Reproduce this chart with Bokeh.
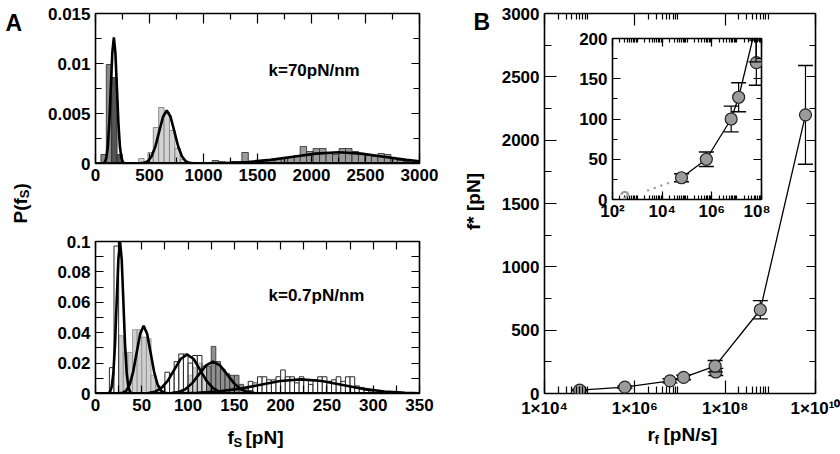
from math import pi
from bokeh.plotting import figure
from bokeh.models import Label, FixedTicker, LinearAxis, LogAxis, NumeralTickFormatter, Range1d
from bokeh.layouts import row, column
from bokeh.embed import file_html
from bokeh.resources import INLINE

FONT = "Liberation Sans"

# ---------------- Panel A, top: k = 70 pN/nm ----------------
a1_grey_x = [75, 125]
a1_grey_h = [0.0009, 0.0099]
a1_dark_x = [175, 225]
a1_dark_h = [0.0086, 0.0009]
a1_light_x = [425, 510, 560, 610, 660, 710, 760, 810]
a1_light_h = [0.0005, 0.0011, 0.0036, 0.0056, 0.0051, 0.0033, 0.0015, 0.0004]
a1_mid_x = [1110, 1170, 1290, 1385, 1450, 1570, 1630, 1690, 1750, 1810, 1870, 1925,
            1985, 2045, 2105, 2165, 2225, 2285, 2345, 2405, 2465, 2525, 2585, 2645,
            2705, 2765, 2825, 2885, 2945]
a1_mid_h = [0.0003, 0.0002, 0.0002, 0.0011, 0.0002, 0.0003, 0.0004, 0.0004, 0.0005,
            0.0006, 0.0008, 0.0017, 0.0012, 0.0015, 0.0015, 0.0011, 0.0009, 0.0015,
            0.0015, 0.0012, 0.0009, 0.0008, 0.0007, 0.0010, 0.0009, 0.0005, 0.0003,
            0.0002, 0.0001]
a1_fit1_x = [0, 72, 86, 100, 114, 128, 142, 156, 170, 184, 198, 212, 226, 240, 254, 268, 3000]
a1_fit1_y = [0, 0.00003, 0.00014, 0.00055, 0.0017, 0.0041, 0.00764, 0.01112, 0.0126,
             0.01112, 0.00764, 0.0041, 0.0017, 0.00055, 0.00014, 0.00003, 0]
a1_fit2_x = [0, 415, 450, 485, 520, 555, 590, 625, 660, 695, 730, 765, 800, 835, 870, 905, 3000]
a1_fit2_y = [0, 0.00001, 0.00006, 0.00023, 0.00072, 0.00172, 0.00321, 0.00468, 0.0053,
             0.00468, 0.00321, 0.00172, 0.00072, 0.00023, 0.00006, 0.00001, 0]
a1_fit3_x = [0, 990, 1200, 1410, 1620, 1830, 2040, 2250, 2460, 2670, 2880, 3000]
a1_fit3_y = [0, 0.00001, 0.00005, 0.00015, 0.00036, 0.00068, 0.00099, 0.00112, 0.00099,
             0.00068, 0.00036, 0.00022]
a1_xticks = [0, 500, 1000, 1500, 2000, 2500, 3000]
a1_xminor = [250, 750, 1250, 1750, 2250, 2750]
a1_yticks = [0, 0.005, 0.01, 0.015]
a1_yminor = [0.0025, 0.0075, 0.0125]

# ---------------- Panel A, bottom: k = 0.7 pN/nm ----------------
a2_w1_x = [17.5, 22.5]
a2_w1_h = [0.017, 0.097]
a2_l2_x = [27.5, 32.5, 37.5, 42.5, 47.5, 52.5, 57.5, 62.5, 67.5]
a2_l2_h = [0.038, 0.027, 0.027, 0.042, 0.042, 0.037, 0.036, 0.012, 0.005]
a2_w3_x = [72.5, 77.5, 82.5, 87.5, 92.5, 97.5, 102.5, 107.5, 112.5, 117.5]
a2_w3_h = [0.004, 0.014, 0.013, 0.021, 0.026, 0.026, 0.020, 0.025, 0.025, 0.018]
a2_d4_x = [102.5, 107.5, 112.5, 117.5, 122.5, 127.5, 132.5, 137.5, 142.5, 147.5,
           152.5, 157.5, 162.5, 167.5]
a2_d4_h = [0.012, 0.017, 0.020, 0.015, 0.018, 0.031, 0.021, 0.016, 0.013, 0.012,
           0.012, 0.006, 0.004, 0.002]
a2_w5_x = [167.5, 172.5, 177.5, 182.5, 187.5, 192.5, 197.5, 202.5, 207.5, 212.5, 217.5,
           222.5, 227.5, 232.5, 237.5, 242.5, 247.5, 252.5, 257.5, 262.5, 267.5, 272.5,
           277.5, 282.5, 287.5, 292.5, 297.5, 327.5]
a2_w5_h = [0.008, 0.007, 0.011, 0.011, 0.009, 0.009, 0.011, 0.0155, 0.011, 0.011, 0.007,
           0.011, 0.009, 0.006, 0.009, 0.011, 0.011, 0.008, 0.009, 0.011, 0.008, 0.011,
           0.011, 0.005, 0.004, 0.002, 0.001, 0.001]
a2_fit1_x = [0, 13.9, 15.7, 17.5, 19.3, 21.1, 22.9, 24.7, 26.5, 28.3, 30.1, 31.9, 33.7,
             35.5, 37.3, 39.1, 350]
a2_fit1_y = [0, 0.0002, 0.0011, 0.0044, 0.0135, 0.0325, 0.0607, 0.0883, 0.1, 0.0883,
             0.0607, 0.0325, 0.0135, 0.0044, 0.0011, 0.0002, 0]
a2_fit2_x = [0, 25.75, 29.5, 33.25, 37, 40.75, 44.5, 48.25, 52, 55.75, 59.5, 63.25, 67,
             70.75, 74.5, 78.25, 350]
a2_fit2_y = [0, 0.0001, 0.0005, 0.00195, 0.006, 0.01445, 0.027, 0.0393, 0.0445, 0.0393,
             0.027, 0.01445, 0.006, 0.00195, 0.0005, 0.0001, 0]
a2_fit3_x = [0, 50, 57, 64, 71, 78, 85, 92, 99, 106, 113, 120, 127, 134, 141, 148, 350]
a2_fit3_y = [0, 0.00006, 0.00029, 0.00113, 0.00348, 0.00834, 0.01559, 0.02268, 0.0257,
             0.02268, 0.01559, 0.00834, 0.00348, 0.00113, 0.00029, 0.00006, 0]
a2_fit4_x = [0, 74.5, 82, 89.5, 97, 104.5, 112, 119.5, 127, 134.5, 142, 149.5, 157,
             164.5, 172, 179.5, 350]
a2_fit4_y = [0, 0.00005, 0.00023, 0.00092, 0.00284, 0.00682, 0.01274, 0.01853, 0.021,
             0.01853, 0.01274, 0.00682, 0.00284, 0.00092, 0.00023, 0.00005, 0]
a2_fit5_x = [0, 87, 109.5, 132, 154.5, 177, 199.5, 222, 244.5, 267, 289.5, 312, 334.5, 350]
a2_fit5_y = [0, 0.0001, 0.0004, 0.00126, 0.00302, 0.00564, 0.00821, 0.0093, 0.00821,
             0.00564, 0.00302, 0.00126, 0.0004, 0.00015]
a2_xticks = [0, 50, 100, 150, 200, 250, 300, 350]
a2_xminor = [25, 75, 125, 175, 225, 275, 325]
a2_yticks = [0, 0.02, 0.04, 0.06, 0.08, 0.1]
a2_yminor = [0.01, 0.03, 0.05, 0.07, 0.09]

# ---------------- Panel B: f* vs loading rate ----------------
rf = [6e4, 6e5, 6e6, 1.2e7, 6e7, 6e8, 6e9]
fstar = [27, 50, 100, 127, 216, 661, 2200]
ferr = [5, 9, 16, 18, 45, 72, 390]
rf_extra = [6.2e7]
fstar_extra = [170]
ferr_extra = [28]
guess_x = [2.5e3, 2.2e4]
guess_y = [11, 21.5]
b_xticks = [1e4, 1e6, 1e8, 1e10]
b_xlabels = ["1×10⁴", "1×10⁶", "1×10⁸", "1×10¹⁰"]
b_xminor = [2e4, 3e4, 4e4, 5e4, 6e4, 7e4, 8e4, 9e4,
            2e6, 3e6, 4e6, 5e6, 6e6, 7e6, 8e6, 9e6,
            2e8, 3e8, 4e8, 5e8, 6e8, 7e8, 8e8, 9e8]
b_yticks = [0, 500, 1000, 1500, 2000, 2500, 3000]
b_yminor = [250, 750, 1250, 1750, 2250, 2750]
i_xticks = [1e2, 1e4, 1e6, 1e8]
i_xlabels = ["10²", "10⁴", "10⁶", "10⁸"]
i_xminor = [m * 10 ** e for e in range(2, 8) for m in range(2, 11)]
i_yticks = [0, 50, 100, 150, 200]
i_yminor = [25, 75, 125, 175]

TICK_PX = "17px"


def style_axis(ax, major_in, minor_in, labels=True):
    ax.axis_line_color = None
    ax.major_tick_in = major_in
    ax.major_tick_out = 0
    ax.minor_tick_in = minor_in
    ax.minor_tick_out = 0
    ax.major_tick_line_color = "black"
    ax.minor_tick_line_color = "black"
    ax.major_tick_line_width = 1.2
    ax.minor_tick_line_width = 1.2
    ax.major_label_text_font = FONT
    ax.major_label_text_font_style = "bold"
    ax.major_label_text_font_size = TICK_PX
    ax.major_label_text_color = "black"
    ax.major_label_standoff = 5
    if not labels:
        ax.major_label_text_color = None
        ax.major_label_standoff = 0


def base_fig(**kw):
    p = figure(output_backend="svg", toolbar_location=None, **kw)
    p.grid.visible = False
    p.outline_line_color = "black"
    p.outline_line_width = 1.6
    p.background_fill_color = None
    p.border_fill_color = None
    return p


def add_label(p, x, y, text, size, angle=0, color="black", align="left",
              baseline="alphabetic", units="screen"):
    p.add_layout(Label(x=x, y=y, x_units=units, y_units=units, text=text,
                       text_font=FONT, text_font_style="bold", text_font_size=f"{size}px",
                       text_color=color, angle=angle, text_align=align,
                       text_baseline=baseline))


def setup_linear(p, xt, xm, yt, ym, xin=(8, 5), yin=(8, 5)):
    p.xaxis.ticker = FixedTicker(ticks=xt, minor_ticks=xm)
    p.yaxis.ticker = FixedTicker(ticks=yt, minor_ticks=ym)
    style_axis(p.xaxis[0], *xin)
    style_axis(p.yaxis[0], *yin)
    top = LinearAxis(ticker=FixedTicker(ticks=xt, minor_ticks=xm))
    style_axis(top, *xin, labels=False)
    p.add_layout(top, "above")
    right = LinearAxis(ticker=FixedTicker(ticks=yt, minor_ticks=ym))
    style_axis(right, *yin, labels=False)
    p.add_layout(right, "right")


EDGE = "#2a2a2a"

# ---- A top ----
pa = base_fig(width=438, height=227, x_range=(0, 3000), y_range=(0, 0.015),
              min_border_left=95, min_border_right=19, min_border_top=13, min_border_bottom=64)
setup_linear(pa, a1_xticks, a1_xminor, a1_yticks, a1_yminor, xin=(10, 6), yin=(8, 6))
pa.yaxis[0].formatter = NumeralTickFormatter(format="0.[000]")
pa.vbar(x=a1_mid_x, width=60, top=a1_mid_h, fill_color="#9c9c9c", line_color=EDGE, line_width=0.8)
pa.vbar(x=a1_light_x, width=50, top=a1_light_h, fill_color="#d2d2d2", line_color="#777777", line_width=0.8)
pa.vbar(x=a1_grey_x, width=50, top=a1_grey_h, fill_color="#8a8a8a", line_color=EDGE, line_width=0.8)
pa.vbar(x=a1_dark_x, width=50, top=a1_dark_h, fill_color="#555555", line_color=EDGE, line_width=0.8)
for fx, fy in [(a1_fit1_x, a1_fit1_y), (a1_fit2_x, a1_fit2_y), (a1_fit3_x, a1_fit3_y)]:
    pa.line(fx, fy, line_color="black", line_width=2.6)
add_label(pa, 173, 93, "k=70pN/nm", 17)

# ---- A bottom ----
pb = base_fig(width=438, height=227, x_range=(0, 350), y_range=(0, 0.1),
              min_border_left=95, min_border_right=19, min_border_top=14, min_border_bottom=61)
setup_linear(pb, a2_xticks, a2_xminor, a2_yticks, a2_yminor, xin=(8, 8), yin=(8, 8))
pb.yaxis[0].formatter = NumeralTickFormatter(format="0.[00]")
pb.vbar(x=a2_w5_x, width=5, top=a2_w5_h, fill_color="white", line_color=EDGE, line_width=1)
pb.vbar(x=a2_d4_x, width=5, top=a2_d4_h, fill_color="#8f8f8f", line_color=EDGE, line_width=0.8)
pb.vbar(x=a2_w3_x, width=5, top=a2_w3_h, fill_color="white", fill_alpha=0.6, line_color=EDGE, line_width=1)
pb.vbar(x=a2_l2_x, width=5, top=a2_l2_h, fill_color="#cfcfcf", line_color="#8a8a8a", line_width=0.8)
pb.vbar(x=a2_w1_x, width=5, top=a2_w1_h, fill_color="white", line_color=EDGE, line_width=1)
for fx, fy in [(a2_fit1_x, a2_fit1_y), (a2_fit2_x, a2_fit2_y), (a2_fit3_x, a2_fit3_y),
               (a2_fit4_x, a2_fit4_y), (a2_fit5_x, a2_fit5_y)]:
    pb.line(fx, fy, line_color="black", line_width=2.6)
add_label(pb, 173, 98, "k=0.7pN/nm", 17)

# ---- B main ----
pB = base_fig(width=402, height=454, x_axis_type="log", x_range=(1e4, 1e10), y_range=(0, 3000),
              min_border_left=106, min_border_right=25, min_border_top=13, min_border_bottom=61)
pB.xaxis.ticker = FixedTicker(ticks=b_xticks, minor_ticks=b_xminor)
pB.yaxis.ticker = FixedTicker(ticks=b_yticks, minor_ticks=b_yminor)
style_axis(pB.xaxis[0], 13, 7)
style_axis(pB.yaxis[0], 12, 7)
pB.xaxis[0].major_label_overrides = dict(zip(b_xticks, b_xlabels))
topB = LogAxis(ticker=FixedTicker(ticks=b_xticks, minor_ticks=b_xminor))
style_axis(topB, 12, 6, labels=False)
pB.add_layout(topB, "above")
rightB = LinearAxis(ticker=FixedTicker(ticks=b_yticks, minor_ticks=b_yminor))
style_axis(rightB, 9, 6, labels=False)
pB.add_layout(rightB, "right")


def draw_points(p, xs, ys, es, line=True, size=12, cap=15):
    lo = [y - e for y, e in zip(ys, es)]
    hi = [y + e for y, e in zip(ys, es)]
    if line:
        p.line(xs, ys, line_color="black", line_width=1.3)
    p.segment(x0=xs, y0=lo, x1=xs, y1=hi, line_color="black", line_width=1.2)
    p.scatter(xs, lo, marker="dash", size=cap, line_color="black", line_width=1.4)
    p.scatter(xs, hi, marker="dash", size=cap, line_color="black", line_width=1.4)
    p.scatter(xs, ys, marker="circle", size=size, fill_color="#9b9b9b",
              line_color="#222222", line_width=1.2)


draw_points(pB, rf_extra, fstar_extra, ferr_extra, line=False)
draw_points(pB, rf, fstar, ferr)

# ---- B inset ----
pI = base_fig(width=210, height=235, x_axis_type="log", x_range=(1e2, 1e8), y_range=(0, 200),
              min_border_left=52, min_border_right=9, min_border_top=8, min_border_bottom=66)
pI.xaxis.ticker = FixedTicker(ticks=i_xticks, minor_ticks=i_xminor)
pI.yaxis.ticker = FixedTicker(ticks=i_yticks, minor_ticks=i_yminor)
style_axis(pI.xaxis[0], 8, 4)
style_axis(pI.yaxis[0], 8, 5)
pI.xaxis[0].major_label_overrides = dict(zip(i_xticks, i_xlabels))
pI.xaxis[0].major_label_standoff = 2
topI = LogAxis(ticker=FixedTicker(ticks=i_xticks, minor_ticks=i_xminor))
style_axis(topI, 8, 4, labels=False)
pI.add_layout(topI, "above")
rightI = LinearAxis(ticker=FixedTicker(ticks=i_yticks, minor_ticks=i_yminor))
style_axis(rightI, 8, 5, labels=False)
pI.add_layout(rightI, "right")
pI.line(guess_x, guess_y, line_color="#9a9a9a", line_width=2.2, line_dash="2 5")
draw_points(pI, rf_extra, fstar_extra, ferr_extra, line=False, size=12, cap=15)
draw_points(pI, rf, fstar, ferr, size=12, cap=15)
add_label(pI, 7, 2, "?", 17, color="#9a9a9a")
inset_box = column(pI)
inset_box.margin = (30, 0, 0, -280)

# ---- text overlay (panel letters and axis titles), page-pixel coordinates ----
pT = figure(width=840, height=454, x_range=Range1d(0, 840), y_range=Range1d(454, 0),
            output_backend="svg", toolbar_location=None, min_border=0, title=None,
            x_axis_location=None, y_axis_location=None)
pT.grid.visible = False
pT.outline_line_color = None
pT.background_fill_color = None
pT.border_fill_color = None
add_label(pT, 5, 22, "A", 23, units="data")
add_label(pT, 473, 21, "B", 23, units="data")
add_label(pT, 20, 223, "P(f", 19, angle=pi / 2, units="data")
add_label(pT, 24, 197.7, "S", 13, angle=pi / 2, units="data")
add_label(pT, 20, 189, ")", 19, angle=pi / 2, units="data")
add_label(pT, 227, 437, "f", 19, units="data")
add_label(pT, 233, 442, "S", 13, units="data")
add_label(pT, 245, 437, "[pN]", 19, units="data")
add_label(pT, 647, 434, "r", 19, units="data")
add_label(pT, 654, 439, "f", 13, units="data")
add_label(pT, 663, 434, "[pN/s]", 19, units="data")
add_label(pT, 473, 201, "f* [pN]", 19, angle=pi / 2, align="center", baseline="middle",
          units="data")
text_box = column(pT)
text_box.margin = (0, 0, 0, -770)

layout = row(column(pa, pb), pB, inset_box, text_box)
open("out.html", "w").write(file_html(layout, INLINE))
